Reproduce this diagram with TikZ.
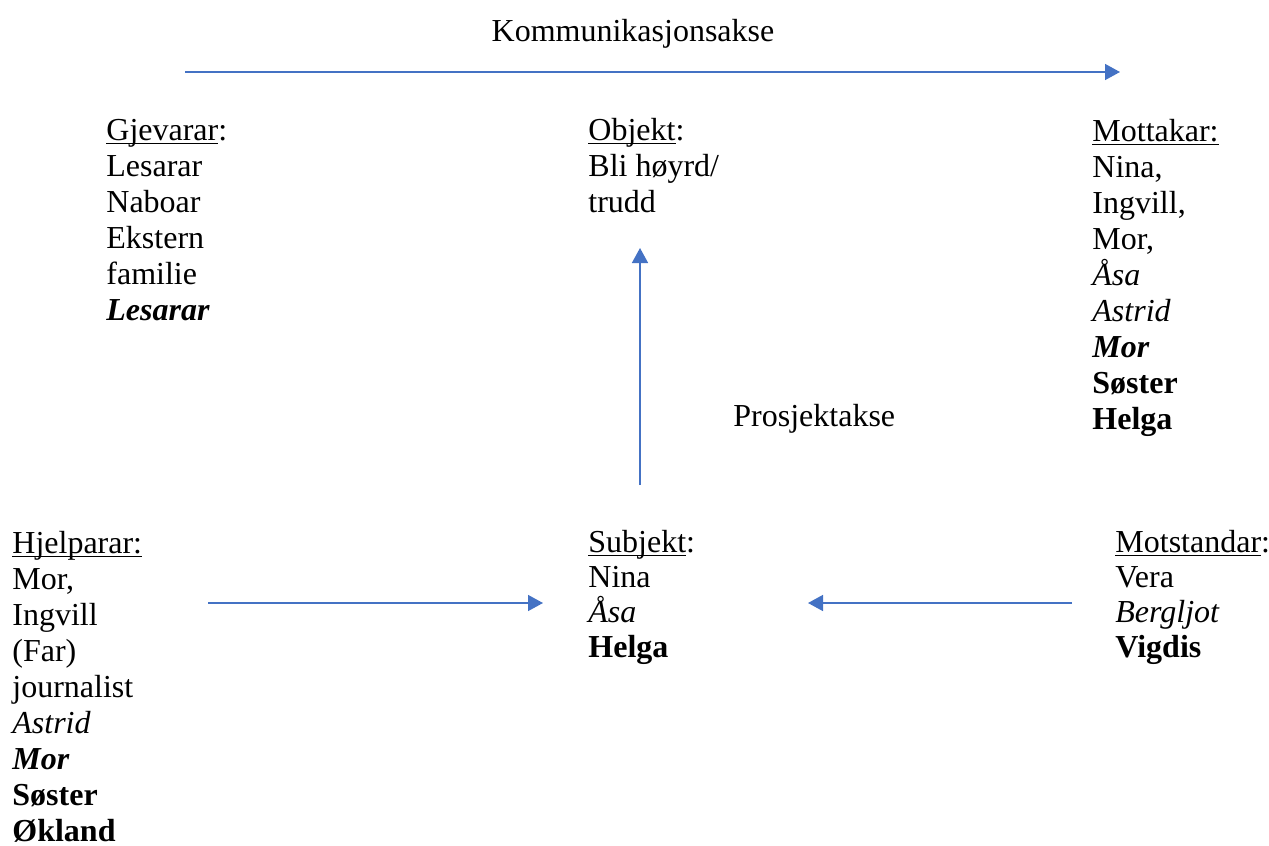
\documentclass[tikz,border=0pt]{standalone}
\usepackage{fontspec}
\setmainfont{Liberation Serif}
\usetikzlibrary{arrows.meta}
\definecolor{aksefarge}{RGB}{68,114,196}
\newcommand\understrek[1]{\strut\underline{\smash{#1}}}

\begin{document}
\begin{tikzpicture}[x=0.5pt, y=-0.5pt,
  tekst/.style={anchor=north west, inner sep=0pt, align=left, font=\fontsize{16}{18}\selectfont},
  tett/.style={font=\fontsize{16}{17.5}\selectfont},
  aksetekst/.style={anchor=base, inner sep=0pt, font=\fontsize{16}{18}\selectfont},
  akse/.style={draw=aksefarge, line width=0.75pt, -{Triangle[length=7.5pt,width=8pt]}}]
\useasboundingbox (0,0) rectangle (1269,846);

\node[aksetekst] (komm) at (633,41) {Kommunikasjonsakse};
\node[aksetekst, anchor=base west] (prosj) at (733,426) {Prosjektakse};

\node[tekst] (gjevar) at (106,115) {\understrek{Gjevarar}:\\ Lesarar\\ Naboar\\ Ekstern\\ familie\\ \textbf{\textit{Lesarar}}};
\node[tekst] (objekt) at (588,115) {\understrek{Objekt}:\\ Bli høyrd/\\ trudd};
\node[tekst] (mottak) at (1092,116) {\understrek{Mottakar:}\\ Nina,\\ Ingvill,\\ Mor,\\ \textit{Åsa}\\ \textit{Astrid}\\ \textbf{\textit{Mor}}\\ \textbf{Søster}\\ \textbf{Helga}};
\node[tekst] (hjelp) at (12,528) {\understrek{Hjelparar:}\\ Mor,\\ Ingvill\\ (Far)\\ journalist\\ \textit{Astrid}\\ \textbf{\textit{Mor}}\\ \textbf{Søster}\\ \textbf{Økland}};
\node[tekst, tett] (subjekt) at (588,528) {\understrek{Subjekt}:\\ Nina\\ \textit{Åsa}\\ \textbf{Helga}};
\node[tekst, tett] (motst) at (1115,528) {\understrek{Motstandar}:\\ Vera\\ \textit{Bergljot}\\ \textbf{Vigdis}};

\coordinate (komm-fra) at (185,72);
\coordinate (komm-til) at (1120,72);
\coordinate (prosj-fra) at (640,485);
\coordinate (prosj-til) at (640,248);
\coordinate (hjelp-ut) at (208,603);
\coordinate (hjelp-inn) at (543,603);
\coordinate (motst-ut) at (1072,603);
\coordinate (motst-inn) at (808,603);

\draw[akse] (komm-fra) -- (komm-til);
\draw[akse] (prosj-fra) -- (prosj-til);
\draw[akse] (hjelp-ut) -- (hjelp-inn);
\draw[akse] (motst-ut) -- (motst-inn);
\end{tikzpicture}
\end{document}
